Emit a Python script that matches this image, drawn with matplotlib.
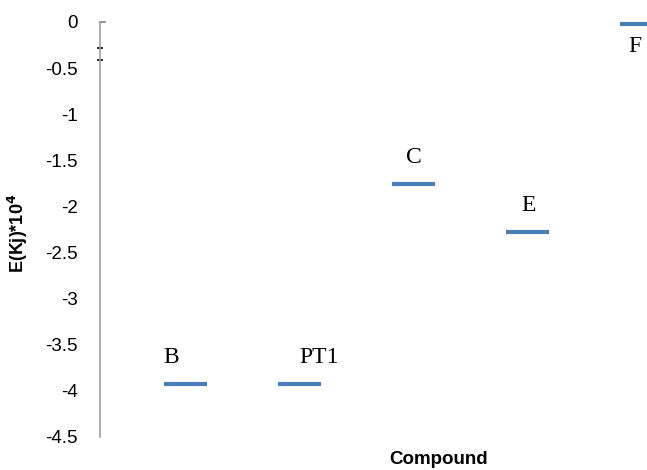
import matplotlib
matplotlib.use("Agg")
import matplotlib.pyplot as plt

compounds = ["B", "PT1", "C", "E", "F"]
energies = [-3.92, -3.92, -1.76, -2.28, -0.02]
yticks = [0, -0.5, -1, -1.5, -2, -2.5, -3, -3.5, -4, -4.5]
ytick_labels = ["0", "-0.5", "-1", "-1.5", "-2", "-2.5", "-3", "-3.5", "-4", "-4.5"]
axis_marks = [-0.28, -0.41]

# style: label offsets (points) relative to each bar
label_dx = [-10, 14, 0, 1, -5]
label_dy = [19, 19, 19, 19, -16]

W, H = 647, 470
fig = plt.figure(figsize=(W / 100, H / 100), dpi=100)
left_px, right_px, top_px, bot_px = 100, 778, 22, 437
ax = fig.add_axes([left_px / W, 1 - bot_px / H, (right_px - left_px) / W, (bot_px - top_px) / H])

xs = list(range(1, len(compounds) + 1))
half = 0.185
ax.hlines(energies, [x - half for x in xs], [x + half for x in xs],
          colors="#4a7ebb", linewidth=3.0, capstyle="butt", clip_on=False)

for x, e, name, dx, dy in zip(xs, energies, compounds, label_dx, label_dy):
    ax.annotate(name, (x, e), xytext=(dx, dy), textcoords="offset points",
                ha="center", va="center", fontsize=17, family="Liberation Serif",
                color="black")

ax.set_xlim(0.25, 0.25 + (right_px - left_px) / 114)
ax.set_ylim(-4.5, 0)

for s in ["top", "right", "bottom"]:
    ax.spines[s].set_visible(False)
ax.spines["left"].set_color("#a0a0a0")
ax.spines["left"].set_linewidth(1.2)

ax.set_xticks([])
ax.set_yticks(yticks)
ax.set_yticklabels(ytick_labels, family="Liberation Sans", fontsize=13.5)
ax.tick_params(axis="y", length=0, pad=16)

# small marks on the axis
ax.plot([0.25, 0.29], [0, 0], color="#808080", linewidth=1.2, clip_on=False)
ax.plot([0.25] * len(axis_marks), axis_marks, linestyle="none", marker="_",
        markersize=5, markeredgewidth=1.2, color="black", clip_on=False)

ax.set_ylabel(r"E(Kj)*10$^{\mathbf{4}}$", fontsize=13, fontweight="bold",
              family="Liberation Sans")
ax.yaxis.set_label_coords(-70 / (right_px - left_px), 0.49)
ax.set_xlabel("Compound", fontsize=13.5, fontweight="bold", family="Liberation Sans",
              va="center")
ax.xaxis.set_label_coords(0.5, -(459 - bot_px) / (bot_px - top_px))

fig.savefig("out.png", dpi=100)
